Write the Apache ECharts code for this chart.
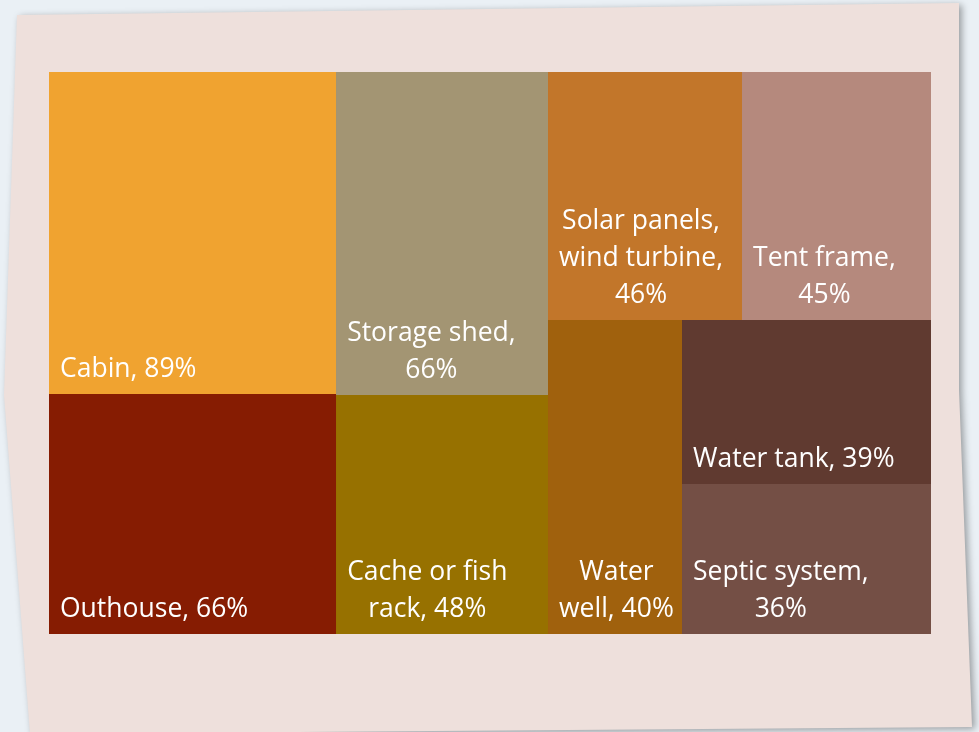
<!DOCTYPE html>
<html>
<head>
<meta charset="utf-8">
<script src="https://cdn.jsdelivr.net/npm/echarts@6/dist/echarts.min.js"></script>
<style>
html,body{margin:0;padding:0;background:#EAF0F5;}
#chart{width:979px;height:732px;}
</style>
</head>
<body>
<div id="chart"></div>
<script>
const categories = ['Cabin', 'Outhouse', 'Storage shed', 'Cache or fish rack', 'Solar panels, wind turbine', 'Tent frame', 'Water well', 'Water tank', 'Septic system'];
// percentages (labels show them rounded)
const values = [88.6, 66.0, 65.6, 48.5, 46.1, 44.9, 40.3, 39.1, 35.8];
const labelTexts = ['Cabin, 89%', 'Outhouse, 66%', 'Storage shed,\n66%', 'Cache or fish\nrack, 48%', 'Solar panels,\nwind turbine,\n46%', 'Tent frame,\n45%', 'Water\nwell, 40%', 'Water tank, 39%', 'Septic system,\n36%'];
const colors = ['#F0A330', '#861C02', '#A39573', '#977100', '#C2762A', '#B5897D', '#A0610D', '#603A30', '#744F45'];
// grouping of the items (indices into the arrays above)
const grouping = [[0, 1], [2, 3], [[4, 5], [6, [7, 8]]]];

const FONT_FAMILY = '"Open Sans", "Noto Sans", sans-serif';
const FONT_SIZE = 26.5;
const LINE_HEIGHT = 37;

const ctx = document.createElement('canvas').getContext('2d');
ctx.font = FONT_SIZE + 'px ' + FONT_FAMILY;
function blockWidth(text) {
  return Math.max.apply(null, text.split('\n').map(l => ctx.measureText(l).width));
}

function build(node) {
  if (Array.isArray(node)) {
    return { children: node.map(build), itemStyle: { color: '#8a5a30', borderColor: '#8a5a30' } };
  }
  const i = node;
  const w = blockWidth(labelTexts[i]);
  return {
    name: categories[i],
    value: values[i],
    itemStyle: { color: colors[i], borderColor: colors[i] },
    label: {
      formatter: labelTexts[i],
      position: [11 + w / 2, '100%'],
      align: 'center',
      verticalAlign: 'bottom',
      offset: [0, -6]
    }
  };
}
const treeData = grouping.map(build);

const chart = echarts.init(document.getElementById('chart'), null, { renderer: 'canvas' });
chart.setOption({
  backgroundColor: '#EAF0F5',
  animation: false,
  graphic: [{
    type: 'polygon',
    z: 0,
    shape: { points: [[17, 15], [959, 3], [959, 390], [972, 727], [30, 734], [4, 395]] },
    style: {
      fill: '#EEE0DC',
      shadowBlur: 7,
      shadowColor: 'rgba(0,0,0,0.35)',
      shadowOffsetX: 3,
      shadowOffsetY: 2
    }
  }],
  series: [{
    type: 'treemap',
    left: 49,
    top: 72,
    width: 882,
    height: 562,
    roam: false,
    nodeClick: false,
    sort: false,
    squareRatio: 1,
    breadcrumb: { show: false },
    itemStyle: { borderWidth: 0, gapWidth: 0 },
    levels: [
      { itemStyle: { borderWidth: 0, gapWidth: 0 } },
      { itemStyle: { borderWidth: 0, gapWidth: 0 } },
      { itemStyle: { borderWidth: 0, gapWidth: 0 } },
      { itemStyle: { borderWidth: 0, gapWidth: 0 } }
    ],
    label: {
      show: true,
      color: '#FFFFFF',
      fontFamily: FONT_FAMILY,
      fontSize: FONT_SIZE,
      lineHeight: LINE_HEIGHT,
      padding: 0,
      overflow: 'none'
    },
    upperLabel: { show: false },
    emphasis: { disabled: true },
    data: treeData
  }]
});
</script>
</body>
</html>
